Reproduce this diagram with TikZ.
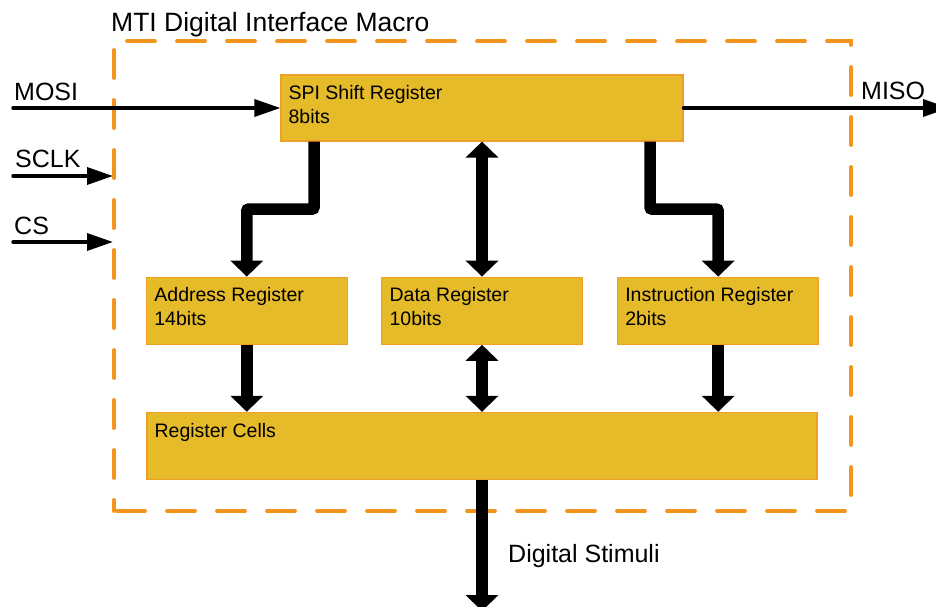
\documentclass[tikz,border=0pt]{standalone}
\usepackage{fontspec}
\setmainfont{Liberation Sans}
\usepackage{tikz}
\usetikzlibrary{arrows.meta, positioning}
\usepackage{xcolor}
\definecolor{regfill}{RGB}{229,187,41}
\definecolor{regedge}{RGB}{240,158,40}
\definecolor{macroedge}{RGB}{242,148,30}

\begin{document}
\begin{tikzpicture}[x=1pt, y=-1pt]
        \tikzstyle{register} = [rectangle, fill=regfill, draw=regedge, line width=1.2pt, minimum width=201pt, minimum height=67pt, inner sep=0pt]
        \tikzstyle{regtext} = [anchor=north west, align=left, inner sep=0pt, font=\fontsize{19.5}{24}\selectfont]
        \tikzstyle{signal} = [anchor=base west, inner sep=0pt, font=\fontsize{25}{30}\selectfont]
        \tikzstyle{wire} = [line width=3.5pt, line cap=round, -{Triangle[length=26pt, width=17pt]}]
        \tikzstyle{bus} = [line width=11.5pt, rounded corners=2pt, -{Triangle[length=16pt, width=32pt]}]
        \tikzstyle{bibus} = [bus, {Triangle[length=16pt, width=32pt]}-{Triangle[length=16pt, width=32pt]}]
        \tikzstyle{macro} = [draw=macroedge, line width=3.8pt, line cap=round, dash pattern=on 28pt off 22pt, dash phase=17pt]

        \useasboundingbox (0,0) rectangle (936,607);

        % macro boundary
        \draw[macro] (114,511) -- (114,41) -- (851,41) -- (851,511) -- cycle;
        \node (title)[signal, font=\fontsize{26.5}{32}\selectfont] at (111,32) {MTI Digital Interface Macro};

        % registers
        \node (spi)[register, minimum width=402pt, minimum height=66pt] at (482,108) {};
        \node (data)[register, below=135pt of spi] {};
        \node (addr)[register, left=33pt of data] {};
        \node (instr)[register, right=34pt of data] {};
        \node (cells)[register, minimum width=670pt, below=67pt of data] {};

        \node (spi-txt)[regtext] at ([xshift=8pt, yshift=-11pt]spi.north west) {SPI Shift Register\\8bits};
        \node (addr-txt)[regtext] at ([xshift=8.5pt, yshift=-11pt]addr.north west) {Address Register\\14bits};
        \node (data-txt)[regtext] at ([xshift=8.5pt, yshift=-11pt]data.north west) {Data Register\\10bits};
        \node (instr-txt)[regtext] at ([xshift=8pt, yshift=-11pt]instr.north west) {Instruction Register\\2bits};
        \node (cells-txt)[regtext] at ([xshift=8pt, yshift=-11pt]cells.north west) {Register Cells};

        % serial pins
        \node (mosi)[signal] at (14,101) {MOSI};
        \node (sclk)[signal] at (15,167) {SCLK};
        \node (cs)[signal] at (14,234) {CS};
        \node (miso)[signal] at (861,100) {MISO};
        \coordinate (mosi-in) at (13,108);
        \coordinate (sclk-in) at (13,176);
        \coordinate (sclk-end) at (113,176);
        \coordinate (cs-in) at (13,242);
        \coordinate (cs-end) at (113,242);
        \coordinate (miso-out) at (949,108);
        \draw [wire] (mosi-in) -- (spi.west);
        \draw [wire] (sclk-in) -- (sclk-end);
        \draw [wire] (cs-in) -- (cs-end);
        \draw [wire] (spi.east) -- (miso-out);

        % parallel buses
        \draw [bus] ([xshift=-168pt]spi.south) -- ++(0,67.5) -| (addr.north);
        \draw [bus] ([xshift=168pt]spi.south) -- ++(0,67.5) -| (instr.north);
        \draw [bibus] (spi.south) -- (data.north);
        \draw [bus] (addr.south) -- (addr.south |- cells.north);
        \draw [bibus] (data.south) -- (cells.north);
        \draw [bus] (instr.south) -- (instr.south |- cells.north);

        \coordinate (stim-out) at (482,611);
        \draw [bus] (cells.south) -- (stim-out);
        \node (stim)[signal] at (508,562) {Digital Stimuli};
\end{tikzpicture}
\end{document}
